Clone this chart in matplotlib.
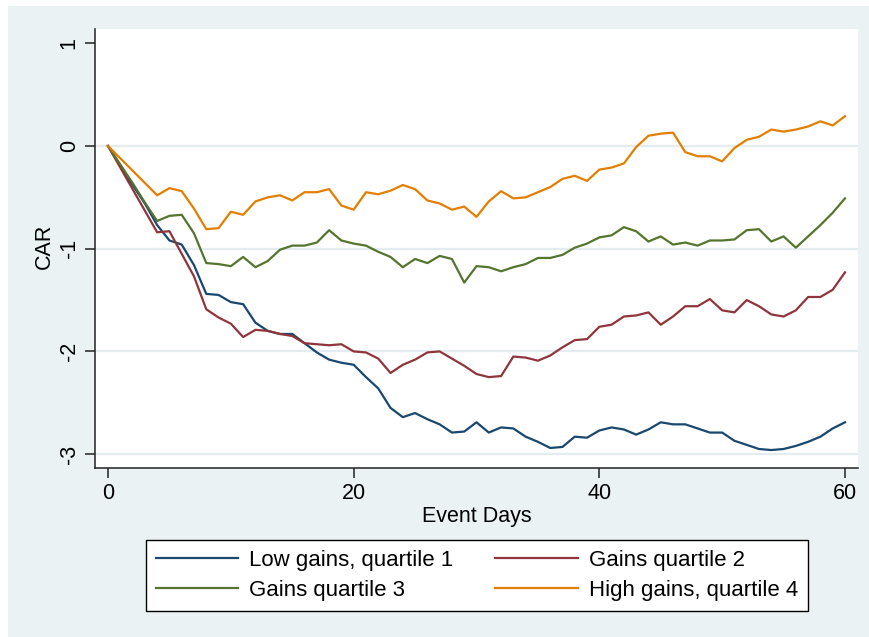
import numpy as np
import matplotlib
matplotlib.use('Agg')
import matplotlib.pyplot as plt
from matplotlib.patches import Rectangle

plt.rcParams['font.family'] = ['Liberation Sans', 'DejaVu Sans']

days = np.arange(0, 61)

q1_low = [0.00, -0.19, -0.38, -0.56, -0.77, -0.92, -0.96, -1.16, -1.44, -1.45,
          -1.52, -1.54, -1.72, -1.80, -1.83, -1.83, -1.92, -2.01, -2.08, -2.11,
          -2.13, -2.25, -2.36, -2.55, -2.64, -2.60, -2.66, -2.71, -2.79, -2.78,
          -2.69, -2.79, -2.74, -2.75, -2.83, -2.88, -2.94, -2.93, -2.83, -2.84,
          -2.77, -2.74, -2.76, -2.81, -2.76, -2.69, -2.71, -2.71, -2.75, -2.79,
          -2.79, -2.87, -2.91, -2.95, -2.96, -2.95, -2.92, -2.88, -2.83, -2.75,
          -2.69]
q2 = [0.00, -0.21, -0.42, -0.63, -0.84, -0.83, -1.05, -1.27, -1.59, -1.67,
      -1.73, -1.86, -1.79, -1.80, -1.83, -1.85, -1.92, -1.93, -1.94, -1.93,
      -2.00, -2.01, -2.07, -2.21, -2.13, -2.08, -2.01, -2.00, -2.07, -2.14,
      -2.22, -2.25, -2.24, -2.05, -2.06, -2.09, -2.04, -1.96, -1.89, -1.88,
      -1.76, -1.74, -1.66, -1.65, -1.62, -1.74, -1.66, -1.56, -1.56, -1.49,
      -1.60, -1.62, -1.50, -1.56, -1.64, -1.66, -1.60, -1.47, -1.47, -1.40,
      -1.23]
q3 = [0.00, -0.18, -0.36, -0.55, -0.73, -0.68, -0.67, -0.85, -1.14, -1.15,
      -1.17, -1.08, -1.18, -1.12, -1.01, -0.97, -0.97, -0.94, -0.82, -0.92,
      -0.95, -0.97, -1.03, -1.08, -1.18, -1.10, -1.14, -1.07, -1.10, -1.33,
      -1.17, -1.18, -1.22, -1.18, -1.15, -1.09, -1.09, -1.06, -0.99, -0.95,
      -0.89, -0.87, -0.79, -0.83, -0.93, -0.88, -0.96, -0.94, -0.97, -0.92,
      -0.92, -0.91, -0.82, -0.81, -0.93, -0.88, -0.99, -0.88, -0.77, -0.65,
      -0.51]
q4_high = [0.00, -0.12, -0.24, -0.36, -0.48, -0.41, -0.44, -0.61, -0.81, -0.80,
           -0.64, -0.67, -0.54, -0.50, -0.48, -0.53, -0.45, -0.45, -0.42, -0.58,
           -0.62, -0.45, -0.47, -0.435, -0.38, -0.42, -0.53, -0.56, -0.62, -0.59,
           -0.69, -0.54, -0.44, -0.51, -0.50, -0.45, -0.40, -0.32, -0.29, -0.34,
           -0.23, -0.21, -0.17, -0.01, 0.10, 0.12, 0.13, -0.06, -0.10, -0.10,
           -0.15, -0.02, 0.06, 0.09, 0.16, 0.14, 0.16, 0.19, 0.24, 0.20,
           0.29]

labels = ['Low gains, quartile 1', 'Gains quartile 2',
          'Gains quartile 3', 'High gains, quartile 4']
colors = ['#1A476F', '#90353B', '#55752F', '#E37E00']

BG = '#EAF2F3'
FS = 15.5
LEG_FS = 16

fig = plt.figure(figsize=(8.7, 6.37), dpi=100, facecolor=BG)
# white margins around the graph region (page crop)
fig.patches.append(Rectangle((0, 1 - 6 / 637), 1, 6 / 637, transform=fig.transFigure,
                             facecolor='white', edgecolor='none', zorder=0))
fig.patches.append(Rectangle((0, 0), 8 / 870, 1, transform=fig.transFigure,
                             facecolor='white', edgecolor='none', zorder=0))

ax = fig.add_axes([95 / 870, 1 - 468 / 637, 763 / 870, 439 / 637])
ax.set_facecolor('white')

for y in [0, -1, -2, -3]:
    ax.axhline(y, color='#E3ECEF', lw=1.6, zorder=1)

series = [q1_low, q2, q3, q4_high]
handles = []
for vals, lab, col in zip(series, labels, colors):
    h, = ax.plot(days, vals, color=col, lw=1.6, label=lab, zorder=3)
    handles.append(h)

ax.set_xlim(-1.06, 61.06)
ax.set_ylim(-3.135, 1.139)
ax.set_xticks([0, 20, 40, 60])
ax.set_yticks([-3, -2, -1, 0, 1])
ax.set_yticklabels(['-3', '-2', '-1', '0', '1'], rotation=90, va='center')

for s in ['top', 'right']:
    ax.spines[s].set_visible(False)
for s in ['left', 'bottom']:
    ax.spines[s].set_color('#222222')
    ax.spines[s].set_linewidth(1.1)

ax.tick_params(axis='both', direction='out', length=7, width=1.1,
               color='#222222', labelsize=FS, labelcolor='black')
ax.tick_params(axis='x', pad=4)
ax.tick_params(axis='y', pad=4)

ax.set_xlabel('Event Days', fontsize=FS, labelpad=1)
ax.set_ylabel('CAR', fontsize=FS)
ax.yaxis.set_label_coords(-0.053, 0.506)

# legend filled row by row: (Q1, Q2) / (Q3, Q4)
order = [0, 2, 1, 3]
leg = fig.legend([handles[i] for i in order], [labels[i] for i in order],
                 loc='upper center', bbox_to_anchor=(0.548, 1 - 540 / 637), ncol=2,
                 fontsize=LEG_FS, frameon=True, fancybox=False, handlelength=3.7,
                 handletextpad=0.5, columnspacing=1.9, labelspacing=0.4,
                 borderpad=0.45, borderaxespad=0)
leg.get_frame().set_edgecolor('black')
leg.get_frame().set_linewidth(1.0)
leg.get_frame().set_facecolor('white')
leg.get_frame().set_alpha(1)

plt.savefig('out.png', dpi=100, facecolor=fig.get_facecolor())
plt.close()
